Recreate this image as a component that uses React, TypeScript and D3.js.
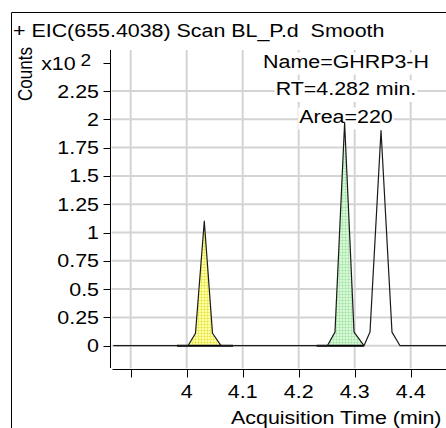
import React from "react";
import * as d3 from "d3";

const traceTimes = [3.869, 4.0023, 4.0157, 4.0314, 4.0461, 4.0613, 4.2511, 4.2648, 4.282, 4.2988, 4.3166, 4.3273, 4.347, 4.3666, 4.3809, 4.48];
const traceCounts = [0, 0, 11, 110, 11, 0, 0, 12, 197, 12, 0, 12, 190, 12, 0, 0];

const peakStarts = [3.9827, 4.2321];
const peakEnds = [4.0827, 4.3166];
const peakFills = ["url(#hatchY)", "url(#hatchG)"];

const xTicks = [3.9, 4.0, 4.1, 4.2, 4.3, 4.4];
const xTickLabels = ["", "4", "4.1", "4.2", "4.3", "4.4"];
const yTicks = [0, 0.25, 0.5, 0.75, 1, 1.25, 1.5, 1.75, 2, 2.25];
const yTickLabels = ["0", "0.25", "0.5", "0.75", "1", "1.25", "1.5", "1.75", "2", "2.25"];
const yTop = 2.5;

const titleText = "+ EIC(655.4038) Scan BL_P.d\u00a0\u00a0Smooth";
const annotations = ["Name=GHRP3-H", "RT=4.282 min.", "Area=220"];

const FONT = "'Liberation Sans', Arial, sans-serif";
const SX = 1.19;
const FS = 18;

function measure(s: string, size: number) {
  try {
    const c = document.createElement("canvas").getContext("2d");
    if (c) {
      c.font = `${size}px 'Liberation Sans'`;
      return c.measureText(s).width * SX;
    }
  } catch (e) {}
  return s.length * size * 0.55 * SX;
}

function T({ x, y, anchor = "start", size = FS, children, rotate = 0, fill = "#000" }: any) {
  return (
    <text
      transform={`translate(${x},${y}) scale(${SX},1)${rotate ? ` rotate(${rotate})` : ""}`}
      textAnchor={anchor}
      fontFamily={FONT}
      fontSize={size}
      fill={fill}
    >
      {children}
    </text>
  );
}

export default function App() {
  const W = 446, H = 428;
  const x = d3.scaleLinear().domain([4.0, 4.4]).range([186.7, 410.7]);
  const y = d3.scaleLinear().domain([0, 2.5]).range([345.7, 62.7]);
  const plotTop = 50;
  const axisY = 369.5;
  const axisX = 110.5;

  const pts = traceTimes.map((t, i) => [t, traceCounts[i] / 100] as [number, number]);
  const line = d3.line<[number, number]>().x(d => x(d[0])).y(d => y(d[1]));
  const area = d3.area<[number, number]>().x(d => x(d[0])).y0(y(0)).y1(d => y(d[1]));

  const valueAt = (t: number) => {
    for (let i = 0; i < pts.length - 1; i++) {
      const [t0, v0] = pts[i], [t1, v1] = pts[i + 1];
      if (t >= t0 && t <= t1) return v0 + (v1 - v0) * (t - t0) / (t1 - t0);
    }
    return 0;
  };
  const peakPts = peakStarts.map((s, k) => {
    const e = peakEnds[k];
    const inner = pts.filter(p => p[0] > s && p[0] < e);
    return [[s, valueAt(s)] as [number, number], ...inner, [e, valueAt(e)] as [number, number]];
  });

  const annX = 346;
  const annY0 = 67.5;
  const annDy = 27.5;

  return (
    <svg width={W} height={H} style={{ position: "absolute", left: 0, top: 0, background: "#fff" }}>
      <defs>
        <pattern id="hatchY" width="3" height="3" patternUnits="userSpaceOnUse">
          <rect width="3" height="3" fill="#ffffa6" />
          <path d="M0,0.5H3M0.5,0V3" stroke="#e6e040" strokeWidth="0.6" />
        </pattern>
        <pattern id="hatchG" width="3" height="3" patternUnits="userSpaceOnUse">
          <rect width="3" height="3" fill="#d9f7d9" />
          <path d="M0,0.5H3M0.5,0V3" stroke="#9fe39f" strokeWidth="0.6" />
        </pattern>
        <clipPath id="plotClip">
          <rect x={axisX + 1} y={plotTop} width={W} height={axisY - plotTop} />
        </clipPath>
      </defs>
      <rect width={W} height={H} fill="#fff" />
      {/* frame */}
      <path d={`M11.5,${H}V12.5H${W}`} fill="none" stroke="#000" strokeWidth={1} />

      {/* grid */}
      {yTicks.map((v, i) => (
        <line key={"gy" + i} x1={axisX + 1} x2={W} y1={y(v)} y2={y(v)} stroke="#d4d4d4" strokeWidth={2} />
      ))}
      {xTicks.map((v, i) => (
        <line key={"gx" + i} x1={x(v)} x2={x(v)} y1={plotTop} y2={axisY - 1} stroke="#d4d4d4" strokeWidth={2} />
      ))}

      {/* axes */}
      <line x1={axisX} x2={axisX} y1={plotTop} y2={axisY - 1.5} stroke="#000" strokeWidth={1} />
      <line x1={axisX + 2} x2={W} y1={axisY} y2={axisY} stroke="#000" strokeWidth={1} />
      {[...yTicks, yTop].map((v, i) => (
        <line key={"ty" + i} x1={axisX - 7} x2={axisX} y1={Math.round(y(v)) + 0.5} y2={Math.round(y(v)) + 0.5} stroke="#000" strokeWidth={1} />
      ))}
      {xTicks.map((v, i) => (
        <line key={"tx" + i} x1={Math.round(x(v)) + 0.5} x2={Math.round(x(v)) + 0.5} y1={axisY} y2={axisY + 8} stroke="#000" strokeWidth={1} />
      ))}

      {/* annotation backgrounds */}
      {annotations.map((a, i) => {
        const w = measure(a, FS) + 2;
        return (
          <rect key={"ab" + i} x={annX - w / 2} y={annY0 + i * annDy - 15} width={w} height={22} fill="#fff" />
        );
      })}

      {/* peaks */}
      <g clipPath="url(#plotClip)">
        {peakPts.map((pp, k) => (
          <path key={"pa" + k} d={area(pp) || ""} fill={peakFills[k]} />
        ))}
        {peakStarts.map((s, k) => (
          <line key={"bl" + k} x1={x(s)} x2={x(peakEnds[k])} y1={y(0)} y2={y(0)} stroke="#000" strokeWidth={2} />
        ))}
        <path d={line(pts) || ""} fill="none" stroke="#1a1a1a" strokeWidth={1.2} strokeLinejoin="round" />
      </g>

      {/* tick labels */}
      {yTicks.map((v, i) => (
        <T key={"ly" + i} x={99} y={y(v) + 6.5} anchor="end">{yTickLabels[i]}</T>
      ))}
      <text transform={`translate(91,${y(yTop) + 7}) scale(${SX},1)`} textAnchor="end" fontFamily={FONT} fontSize={FS}>
        x10<tspan dx="4" dy="-4" fontSize={16}>2</tspan>
      </text>
      {xTicks.map((v, i) => (
        <T key={"lx" + i} x={x(v)} y={398} anchor="middle">{xTickLabels[i]}</T>
      ))}

      {/* titles */}
      <T x={13} y={36.5}>{titleText}</T>
      <T x={441.5} y={423.5} anchor="end">Acquisition Time (min)</T>
      <T x={32} y={74} anchor="middle" size={17} rotate={-90}>Counts</T>
      {annotations.map((a, i) => (
        <T key={"an" + i} x={annX} y={annY0 + i * annDy} anchor="middle">{a}</T>
      ))}
    </svg>
  );
}
